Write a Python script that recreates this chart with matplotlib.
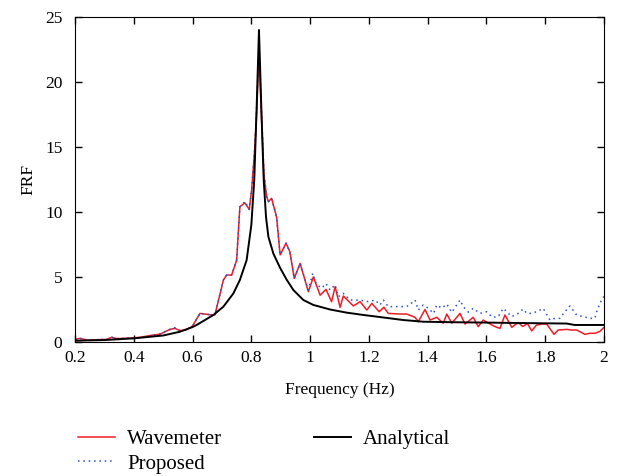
import matplotlib
matplotlib.use("Agg")
import matplotlib.pyplot as plt

plt.rcParams['font.family'] = ['Liberation Serif', 'DejaVu Serif']

# wavemeter (red) readings
wm_freq = [0.200, 0.217, 0.240, 0.308, 0.325, 0.342, 0.387, 0.421, 0.466, 0.489,
           0.523, 0.540, 0.557, 0.580, 0.600, 0.625, 0.642, 0.659, 0.676, 0.705,
           0.716, 0.733, 0.750, 0.761, 0.778, 0.793, 0.801, 0.812, 0.819, 0.826,
           0.835, 0.843, 0.852, 0.858, 0.869, 0.886, 0.898, 0.918, 0.931, 0.946,
           0.966, 0.994, 1.011, 1.034, 1.054, 1.073, 1.085, 1.102, 1.113, 1.147,
           1.170, 1.193, 1.210, 1.235, 1.251, 1.266, 1.306, 1.329, 1.357, 1.368,
           1.391, 1.408, 1.431, 1.453, 1.465, 1.482, 1.510, 1.527, 1.555, 1.572,
           1.589, 1.618, 1.635, 1.646, 1.663, 1.686, 1.708, 1.723, 1.740, 1.754,
           1.770, 1.788, 1.805, 1.830, 1.844, 1.873, 1.890, 1.907, 1.935, 1.952,
           1.969, 1.985, 2.000]
wm_frf = [0.20, 0.28, 0.15, 0.20, 0.36, 0.26, 0.30, 0.36, 0.54, 0.60,
          0.97, 1.05, 0.87, 0.95, 1.23, 2.20, 2.15, 2.10, 2.08, 4.77,
          5.15, 5.15, 6.30, 10.4, 10.7, 10.2, 11.7, 15.0, 18.0, 22.3,
          17.0, 12.8, 11.2, 10.8, 11.05, 9.6, 6.7, 7.6, 6.95, 4.9,
          6.05, 3.87, 5.0, 3.6, 4.05, 3.1, 4.25, 2.67, 3.54, 2.77,
          3.1, 2.46, 2.97, 2.33, 2.67, 2.2, 2.15, 2.15, 1.9, 1.56,
          2.5, 1.69, 1.9, 1.44, 2.15, 1.44, 2.2, 1.38, 1.9, 1.18,
          1.69, 1.31, 1.13, 1.05, 2.08, 1.13, 1.5, 1.2, 1.4, 0.85,
          1.3, 1.38, 1.38, 0.59, 0.92, 0.97, 0.92, 0.92, 0.59, 0.67,
          0.67, 0.8, 1.13]

# proposed (blue dotted) readings
pr_freq = [0.200, 0.217, 0.240, 0.308, 0.325, 0.342, 0.387, 0.421, 0.466, 0.489,
           0.523, 0.540, 0.557, 0.580, 0.600, 0.625, 0.642, 0.659, 0.676, 0.705,
           0.716, 0.733, 0.750, 0.761, 0.778, 0.793, 0.801, 0.812, 0.819, 0.826,
           0.835, 0.843, 0.852, 0.858, 0.869, 0.886, 0.898, 0.918, 0.931, 0.946,
           0.966, 0.983, 0.994, 1.009, 1.022, 1.040, 1.054, 1.068, 1.085, 1.096,
           1.113, 1.136, 1.158, 1.175, 1.198, 1.221, 1.238, 1.249, 1.266, 1.294,
           1.311, 1.334, 1.357, 1.368, 1.385, 1.402, 1.420, 1.431, 1.448, 1.465,
           1.482, 1.510, 1.521, 1.538, 1.555, 1.578, 1.601, 1.620, 1.640, 1.657,
           1.686, 1.708, 1.725, 1.737, 1.754, 1.776, 1.793, 1.816, 1.833, 1.850,
           1.867, 1.884, 1.907, 1.930, 1.952, 1.969, 1.975, 1.986, 1.995, 2.000]
pr_frf = [0.20, 0.28, 0.15, 0.20, 0.36, 0.26, 0.30, 0.30, 0.50, 0.62,
          0.97, 1.10, 0.87, 0.95, 1.23, 2.20, 2.15, 2.10, 2.08, 4.77,
          5.15, 5.15, 6.30, 10.4, 10.8, 10.2, 11.7, 15.0, 18.5, 23.0,
          17.5, 13.0, 11.2, 10.8, 11.05, 9.6, 6.7, 7.6, 6.95, 4.9,
          6.05, 4.77, 4.0, 5.28, 4.4, 4.15, 4.5, 4.0, 4.4, 3.49,
          3.74, 3.23, 3.23, 3.2, 3.1, 3.23, 2.85, 3.23, 2.72, 2.72,
          2.72, 2.77, 3.23, 2.46, 2.85, 2.6, 2.2, 2.85, 2.6, 2.92,
          2.28, 3.23, 2.72, 2.3, 2.59, 2.2, 2.33, 1.9, 1.95, 2.59,
          1.95, 2.2, 2.54, 2.2, 2.2, 2.38, 2.59, 1.69, 1.82, 1.82,
          2.33, 2.77, 2.07, 1.95, 1.82, 1.82, 2.33, 2.97, 3.36, 3.5]

# analytical (black) readings
an_freq = [0.200, 0.300, 0.400, 0.500, 0.557, 0.600, 0.614, 0.671, 0.705, 0.739,
           0.761, 0.784, 0.800, 0.810, 0.818, 0.826, 0.834, 0.842, 0.850, 0.858,
           0.875, 0.898, 0.920, 0.943, 0.977, 1.011, 1.068, 1.124, 1.181, 1.227,
           1.272, 1.317, 1.385, 1.490, 1.610, 1.750, 1.873, 1.900, 2.000]
an_frf = [0.10, 0.15, 0.28, 0.50, 0.79, 1.15, 1.31, 2.08, 2.72, 3.74,
          4.77, 6.30, 9.0, 12.5, 18.0, 24.0, 18.0, 12.5, 9.6, 8.1,
          6.8, 5.7, 4.8, 4.0, 3.23, 2.85, 2.5, 2.26, 2.08, 1.95,
          1.82, 1.69, 1.56, 1.52, 1.49, 1.45, 1.42, 1.31, 1.31]

x_ticks = [0.2, 0.4, 0.6, 0.8, 1, 1.2, 1.4, 1.6, 1.8, 2]
x_tick_labels = ['0.2', '0.4', '0.6', '0.8', '1', '1.2', '1.4', '1.6', '1.8', '2']
y_ticks = [0, 5, 10, 15, 20, 25]

fig = plt.figure(figsize=(6.17, 4.76), dpi=100)
ax = fig.add_axes([75/617, 1-342/476, (604-75)/617, (342-17)/476])

l1, = ax.plot(wm_freq, wm_frf, color='#ee1c25', lw=1.1, label='Wavemeter')
l2, = ax.plot(pr_freq, pr_frf, color='#2b4fc9', lw=1.1, ls=(0, (1, 2.5)), label='Proposed')
l3, = ax.plot(an_freq, an_frf, color='black', lw=1.4, label='Analytical')

ax.set_xlim(0.2, 2)
ax.set_ylim(0, 25)
ax.set_xticks(x_ticks)
ax.set_xticklabels(x_tick_labels)
ax.set_yticks(y_ticks)
ax.tick_params(direction='in', top=True, right=True, length=5, width=1,
               labelsize=12.5)
ax.tick_params(axis='x', pad=6)
ax.tick_params(axis='y', pad=9)
ax.set_xlabel('Frequency (Hz)', fontsize=12.5, labelpad=11)
ax.set_ylabel('FRF', fontsize=12.5, labelpad=6)

fig.legend(handles=[l1, l2, l3], loc='upper left', ncol=2, frameon=False,
           bbox_to_anchor=(70/617, 1-421/476), fontsize=15,
           handlelength=1.75, handletextpad=0.6, columnspacing=4.4,
           labelspacing=0.25, borderaxespad=0)

fig.savefig('out.png', dpi=100)
